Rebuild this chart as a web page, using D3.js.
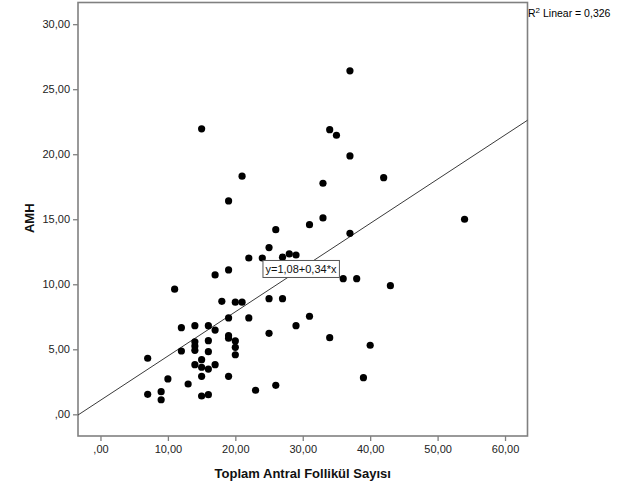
<!DOCTYPE html>
<html>
<head>
<meta charset="utf-8">
<script src="https://cdn.jsdelivr.net/npm/d3@7"></script>
<style>
  body { margin: 0; background: #fff; }
  text { font-family: "Liberation Sans", Arial, sans-serif; }
</style>
</head>
<body>
<div id="chart"></div>
<script>
// Toplam Antral Follikül Sayısı (x) vs AMH (y)
const follicleCount = [15, 21, 19, 26, 25, 22, 24, 17, 19, 11, 18, 20, 21, 25, 27,
    12, 14, 16, 17, 19, 22, 14, 14, 14, 16, 19, 19, 20, 20, 20, 12, 16, 25, 7, 15,
    14, 15, 16, 17, 10, 13, 15, 19, 7, 9, 9, 15, 16, 23, 26, 37, 34, 35, 37, 42,
    33, 33, 31, 37, 27, 28, 29, 36, 38, 43, 31, 29, 34, 40, 39, 54];
const amh = [21.95, 18.31, 16.41, 14.2, 12.82, 12.02, 12.02, 10.72, 11.1, 9.62, 8.69, 8.62, 8.62, 8.89, 8.89,
    6.66, 6.82, 6.82, 6.48, 7.41, 7.41, 5.58, 5.25, 4.92, 5.66, 6.05, 5.85, 5.64, 5.15, 4.58, 4.87, 4.82, 6.23, 4.31, 4.2,
    3.82, 3.62, 3.48, 3.82, 2.72, 2.33, 2.92, 2.92, 1.54, 1.74, 1.12, 1.41, 1.51, 1.85, 2.23, 26.41, 21.89, 21.46, 19.87, 18.2,
    17.77, 15.1, 14.58, 13.92, 12.08, 12.33, 12.25, 10.43, 10.43, 9.89, 7.54, 6.82, 5.89, 5.31, 2.82, 15.0];

const xTicks = [0, 10, 20, 30, 40, 50, 60];
const xTickLabels = [",00", "10,00", "20,00", "30,00", "40,00", "50,00", "60,00"];
const yTicks = [0, 5, 10, 15, 20, 25, 30];
const yTickLabels = [",00", "5,00", "10,00", "15,00", "20,00", "25,00", "30,00"];

const fitIntercept = 1.08;
const fitSlope = 0.34;
const fitLabel = "y=1,08+0,34*x";
const rSquaredLabel = "0,326";

const width = 623, height = 484;
const plot = {left: 78, right: 527.5, top: 2.5, bottom: 436};

const svg = d3.select("#chart")
    .append("svg")
    .attr("width", width)
    .attr("height", height);

const x = d3.scaleLinear()
    .domain([-3.333, 63.333])
    .range([plot.left, plot.right]);

const y = d3.scaleLinear()
    .domain([-1.667, 31.667])
    .range([plot.bottom, plot.top]);

const frameColor = "#808080";

// axes
const xAxis = svg.append("g")
    .attr("transform", `translate(0,${plot.bottom})`)
    .call(d3.axisBottom(x)
        .tickValues(xTicks)
        .tickFormat((d, i) => xTickLabels[i])
        .tickSize(5)
        .tickPadding(4)
        .tickSizeOuter(0));

const yAxis = svg.append("g")
    .attr("transform", `translate(${plot.left},0)`)
    .call(d3.axisLeft(y)
        .tickValues(yTicks)
        .tickFormat((d, i) => yTickLabels[i])
        .tickSize(5)
        .tickPadding(3)
        .tickSizeOuter(0));

[xAxis, yAxis].forEach(ax => {
    ax.select(".domain").remove();
    ax.selectAll(".tick line").attr("stroke", frameColor).attr("stroke-width", 1.3);
    ax.selectAll(".tick text")
        .attr("font-size", "11px")
        .attr("fill", "#222")
        .style("font-family", "'Liberation Sans', Arial, sans-serif");
});

// frame
svg.append("rect")
    .attr("x", plot.left)
    .attr("y", plot.top)
    .attr("width", plot.right - plot.left)
    .attr("height", plot.bottom - plot.top)
    .attr("fill", "none")
    .attr("stroke", frameColor)
    .attr("stroke-width", 1.6);

// fit line across the plot
const [x0, x1] = x.domain();
svg.append("line")
    .attr("x1", x(x0))
    .attr("y1", y(fitIntercept + fitSlope * x0))
    .attr("x2", x(x1))
    .attr("y2", y(fitIntercept + fitSlope * x1))
    .attr("stroke", "#3a3a3a")
    .attr("stroke-width", 1);

// points
svg.append("g")
    .selectAll("circle")
    .data(follicleCount.map((d, i) => [d, amh[i]]))
    .join("circle")
    .attr("cx", d => x(d[0]))
    .attr("cy", d => y(d[1]))
    .attr("r", 3.6)
    .attr("fill", "#000");

// equation label
const eq = svg.append("g")
    .attr("transform", `translate(${x(24.1)},${y(11.83)})`);
const eqRect = eq.append("rect")
    .attr("fill", "#fff")
    .attr("stroke", "#555")
    .attr("stroke-width", 1);
const eqText = eq.append("text")
    .attr("x", 2.5)
    .attr("y", 12.5)
    .attr("font-size", "11px")
    .attr("fill", "#111")
    .text(fitLabel);
const bb = eqText.node().getBBox();
eqRect.attr("width", bb.width + 5).attr("height", 17);

// R² label
const r2 = svg.append("text")
    .attr("x", plot.right + 0.5)
    .attr("y", 17)
    .attr("font-size", "10.5px")
    .attr("fill", "#000");
r2.append("tspan").text("R");
r2.append("tspan").attr("font-size", "8px").attr("dy", -4).text("2");
r2.append("tspan").attr("dy", 4).text(" Linear = " + rSquaredLabel);

// axis titles
svg.append("text")
    .attr("x", (plot.left + plot.right) / 2)
    .attr("y", 478)
    .attr("text-anchor", "middle")
    .attr("font-size", "13px")
    .attr("font-weight", "bold")
    .attr("fill", "#111")
    .text("Toplam Antral Follikül Sayısı");

svg.append("text")
    .attr("transform", `translate(34,${(plot.top + plot.bottom) / 2 - 1}) rotate(-90)`)
    .attr("text-anchor", "middle")
    .attr("font-size", "13px")
    .attr("font-weight", "bold")
    .attr("fill", "#111")
    .text("AMH");
</script>
</body>
</html>
